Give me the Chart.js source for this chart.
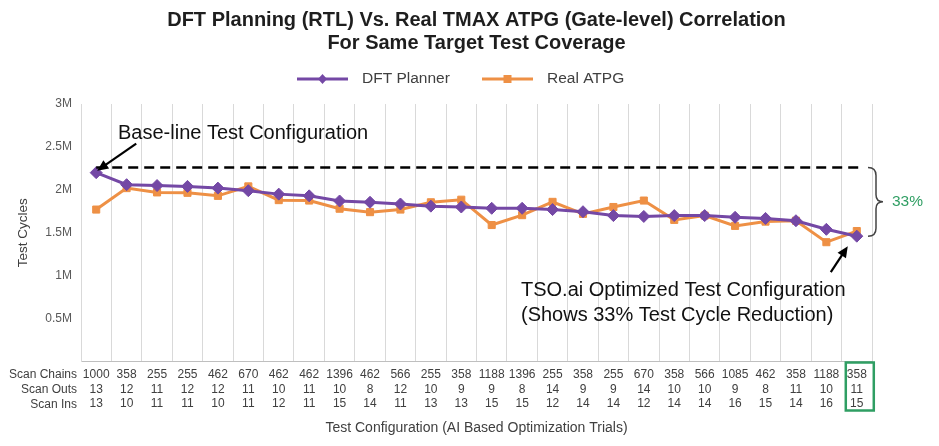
<!DOCTYPE html>
<html>
<head>
<meta charset="utf-8">
<script src="https://cdn.jsdelivr.net/npm/chart.js@4"></script>
<style>
  html, body { margin: 0; padding: 0; background: #ffffff; }
  #wrap { position: relative; width: 939px; height: 446px; }
</style>
</head>
<body>
<div id="wrap"><canvas id="c"></canvas></div>
<script>
// ---------- data ----------
const scanChains = [1000, 358, 255, 255, 462, 670, 462, 462, 1396, 462, 566, 255, 358, 1188, 1396, 255, 358, 255, 670, 358, 566, 1085, 462, 358, 1188, 358];
const scanOuts   = [13, 12, 11, 12, 12, 11, 10, 11, 10, 8, 12, 10, 9, 9, 8, 14, 9, 9, 14, 10, 10, 9, 8, 11, 10, 11];
const scanIns    = [13, 10, 11, 11, 10, 11, 12, 11, 15, 14, 11, 13, 13, 15, 15, 12, 14, 14, 12, 14, 14, 16, 15, 14, 16, 15];
const rowLabels  = ['Scan Chains', 'Scan Outs', 'Scan Ins'];

const dftPlanner = [2200000, 2060000, 2050000, 2040000, 2020000, 1990000, 1950000, 1930000, 1870000, 1855000, 1835000, 1810000, 1800000,
                    1785000, 1785000, 1770000, 1745000, 1700000, 1690000, 1700000, 1700000, 1680000, 1667000, 1640000, 1540000, 1460000];
const realAtpg   = [1770000, 2020000, 1970000, 1965000, 1930000, 2040000, 1880000, 1875000, 1780000, 1740000, 1770000, 1855000, 1885000,
                    1590000, 1705000, 1860000, 1720000, 1800000, 1875000, 1650000, 1700000, 1580000, 1630000, 1640000, 1390000, 1520000];

const yTicks = [0, 500000, 1000000, 1500000, 2000000, 2500000, 3000000];
const yTickLabels = ['', '0.5M', '1M', '1.5M', '2M', '2.5M', '3M'];
const baselineLevel = 2260000;
const reductionLabel = '33%';

const titleLines = ['DFT Planning (RTL) Vs. Real TMAX ATPG (Gate-level) Correlation', 'For Same Target Test Coverage'];
const seriesNames = ['DFT Planner', 'Real ATPG'];
const yTitle = 'Test Cycles';
const xTitle = 'Test Configuration (AI Based Optimization Trials)';
const noteBase = 'Base-line Test Configuration';
const noteOpt = ['TSO.ai Optimized Test Configuration', '(Shows 33% Test Cycle Reduction)'];

// ---------- style ----------
const FONT = '"Liberation Sans", Arial, Helvetica, sans-serif';
const PURPLE = '#7448a5';
const ORANGE = '#ee9045';
const GREEN = '#2f9e63';
const TEXT = '#404040';

const labels = scanChains.map((c, i) => [String(c), String(scanOuts[i]), String(scanIns[i])]);

function arrow(ctx, x1, y1, x2, y2) {
  const ang = Math.atan2(y2 - y1, x2 - x1);
  const hl = 11, hw = 5;
  ctx.save();
  ctx.strokeStyle = '#000'; ctx.fillStyle = '#000'; ctx.lineWidth = 2.2;
  ctx.beginPath();
  ctx.moveTo(x1, y1);
  ctx.lineTo(x2 - Math.cos(ang) * hl * 0.8, y2 - Math.sin(ang) * hl * 0.8);
  ctx.stroke();
  ctx.beginPath();
  ctx.moveTo(x2, y2);
  ctx.lineTo(x2 - Math.cos(ang) * hl - Math.sin(ang) * hw, y2 - Math.sin(ang) * hl + Math.cos(ang) * hw);
  ctx.lineTo(x2 - Math.cos(ang) * hl + Math.sin(ang) * hw, y2 - Math.sin(ang) * hl - Math.cos(ang) * hw);
  ctx.closePath();
  ctx.fill();
  ctx.restore();
}

const extras = {
  id: 'extras',
  afterDraw(chart) {
    const ctx = chart.ctx;
    const xs = chart.scales.x, ys = chart.scales.y;
    const n = dftPlanner.length;
    ctx.save();

    // legend
    const ly = 79;
    const items = [
      { x: 297, color: PURPLE, style: 'diamond', text: seriesNames[0] },
      { x: 482, color: ORANGE, style: 'square', text: seriesNames[1] }
    ];
    items.forEach(it => {
      ctx.strokeStyle = it.color; ctx.fillStyle = it.color; ctx.lineWidth = 3;
      ctx.beginPath(); ctx.moveTo(it.x, ly); ctx.lineTo(it.x + 51, ly); ctx.stroke();
      const cx = it.x + 25.5;
      ctx.beginPath();
      if (it.style === 'diamond') {
        ctx.moveTo(cx, ly - 5); ctx.lineTo(cx + 4.5, ly); ctx.lineTo(cx, ly + 5); ctx.lineTo(cx - 4.5, ly);
      } else {
        ctx.rect(cx - 4, ly - 4, 8, 8);
      }
      ctx.closePath(); ctx.fill();
      ctx.fillStyle = TEXT;
      ctx.font = '15.5px ' + FONT;
      ctx.textAlign = 'left'; ctx.textBaseline = 'middle';
      ctx.fillText(it.text, it.x + 65, ly);
    });

    // row labels for the x axis
    ctx.font = '12px ' + FONT;
    ctx.fillStyle = TEXT;
    ctx.textAlign = 'right'; ctx.textBaseline = 'middle';
    rowLabels.forEach((t, i) => ctx.fillText(t, 77, 375 + i * 14.6));

    // dashed baseline
    const by = ys.getPixelForValue(baselineLevel);
    const x0 = xs.getPixelForValue(0);
    const xl = xs.getPixelForValue(n - 1);
    ctx.strokeStyle = '#000'; ctx.lineWidth = 2.5;
    ctx.setLineDash([10, 6]);
    ctx.beginPath(); ctx.moveTo(x0, by); ctx.lineTo(xl + 6, by); ctx.stroke();
    ctx.setLineDash([]);

    // brace
    const ey = ys.getPixelForValue(dftPlanner[n - 1]);
    const bx = xs.right - 4;
    const my = (by + ey) / 2;
    ctx.strokeStyle = '#444'; ctx.lineWidth = 1.5;
    ctx.beginPath();
    ctx.moveTo(bx, by);
    ctx.quadraticCurveTo(bx + 8, by, bx + 8, by + 8);
    ctx.lineTo(bx + 8, my - 7);
    ctx.quadraticCurveTo(bx + 8, my, bx + 15, my);
    ctx.quadraticCurveTo(bx + 8, my, bx + 8, my + 7);
    ctx.lineTo(bx + 8, ey - 8);
    ctx.quadraticCurveTo(bx + 8, ey, bx, ey);
    ctx.stroke();
    ctx.fillStyle = GREEN;
    ctx.font = '15.5px ' + FONT;
    ctx.textAlign = 'left'; ctx.textBaseline = 'middle';
    ctx.fillText(reductionLabel, bx + 24, my);

    // annotations
    const p0x = x0, p0y = ys.getPixelForValue(dftPlanner[0]);
    arrow(ctx, p0x + 40, p0y - 29, p0x + 1, p0y - 2);
    ctx.fillStyle = '#111';
    ctx.font = '20px ' + FONT;
    ctx.textAlign = 'left'; ctx.textBaseline = 'middle';
    ctx.fillText(noteBase, 118, 133);

    arrow(ctx, xl - 26, ey + 36, xl - 9, ey + 10);
    ctx.fillStyle = '#111';
    ctx.fillText(noteOpt[0], 521, 290);
    ctx.fillText(noteOpt[1], 521, 315);

    // highlight box around last configuration
    ctx.strokeStyle = GREEN; ctx.lineWidth = 2.5;
    ctx.strokeRect(xl - 11, xs.top + 1, 28, 48);

    ctx.restore();
  }
};

new Chart(document.getElementById('c'), {
  type: 'line',
  data: {
    labels: labels,
    datasets: [
      {
        label: seriesNames[0], data: dftPlanner,
        borderColor: PURPLE, backgroundColor: PURPLE, borderWidth: 3,
        pointStyle: 'rectRot', pointRadius: 6, pointHoverRadius: 6,
        pointBackgroundColor: PURPLE, pointBorderColor: PURPLE, pointBorderWidth: 1,
        tension: 0
      },
      {
        label: seriesNames[1], data: realAtpg,
        borderColor: ORANGE, backgroundColor: ORANGE, borderWidth: 3,
        pointStyle: 'rect', pointRadius: 5, pointHoverRadius: 5,
        pointBackgroundColor: ORANGE, pointBorderColor: ORANGE, pointBorderWidth: 1,
        tension: 0
      }
    ]
  },
  options: {
    responsive: true,
    maintainAspectRatio: false,
    animation: false,
    layout: { padding: { left: 0, right: 67, top: 0, bottom: 0 } },
    plugins: {
      legend: { display: false },
      tooltip: { enabled: false },
      title: {
        display: true, text: titleLines, fullSize: false,
        color: '#1e1e1e',
        font: { family: FONT, size: 20, weight: 'bold', lineHeight: 1.15 },
        padding: { top: 9, bottom: 49 }
      }
    },
    scales: {
      x: {
        type: 'category', offset: true,
        grid: { display: true, offset: true, color: '#d9d9d9', lineWidth: 1, drawTicks: false },
        border: { display: true, color: '#bfbfbf', width: 1 },
        ticks: { color: TEXT, font: { family: FONT, size: 12, lineHeight: 1.22 }, padding: 6, maxRotation: 0, autoSkip: false },
        title: { display: true, text: xTitle, color: TEXT, font: { family: FONT, size: 14 }, padding: { top: 10, bottom: 9.6 } },
        afterFit(s) { s.height = 84.5; }
      },
      y: {
        min: 0, max: 3000000,
        grid: { display: false, drawTicks: false },
        border: { display: true, color: '#d9d9d9', width: 1 },
        afterBuildTicks(s) { s.ticks = yTicks.map(v => ({ value: v })); },
        ticks: {
          color: '#595959', font: { family: FONT, size: 12 }, padding: 9,
          callback(v) { const i = yTicks.indexOf(v); return i >= 0 ? yTickLabels[i] : ''; }
        },
        title: { display: true, text: yTitle, color: TEXT, font: { family: FONT, size: 13.5 }, padding: { top: 15, bottom: 0 } },
        afterFit(s) { s.width = 81; }
      }
    }
  },
  plugins: [extras]
});
</script>
</body>
</html>
